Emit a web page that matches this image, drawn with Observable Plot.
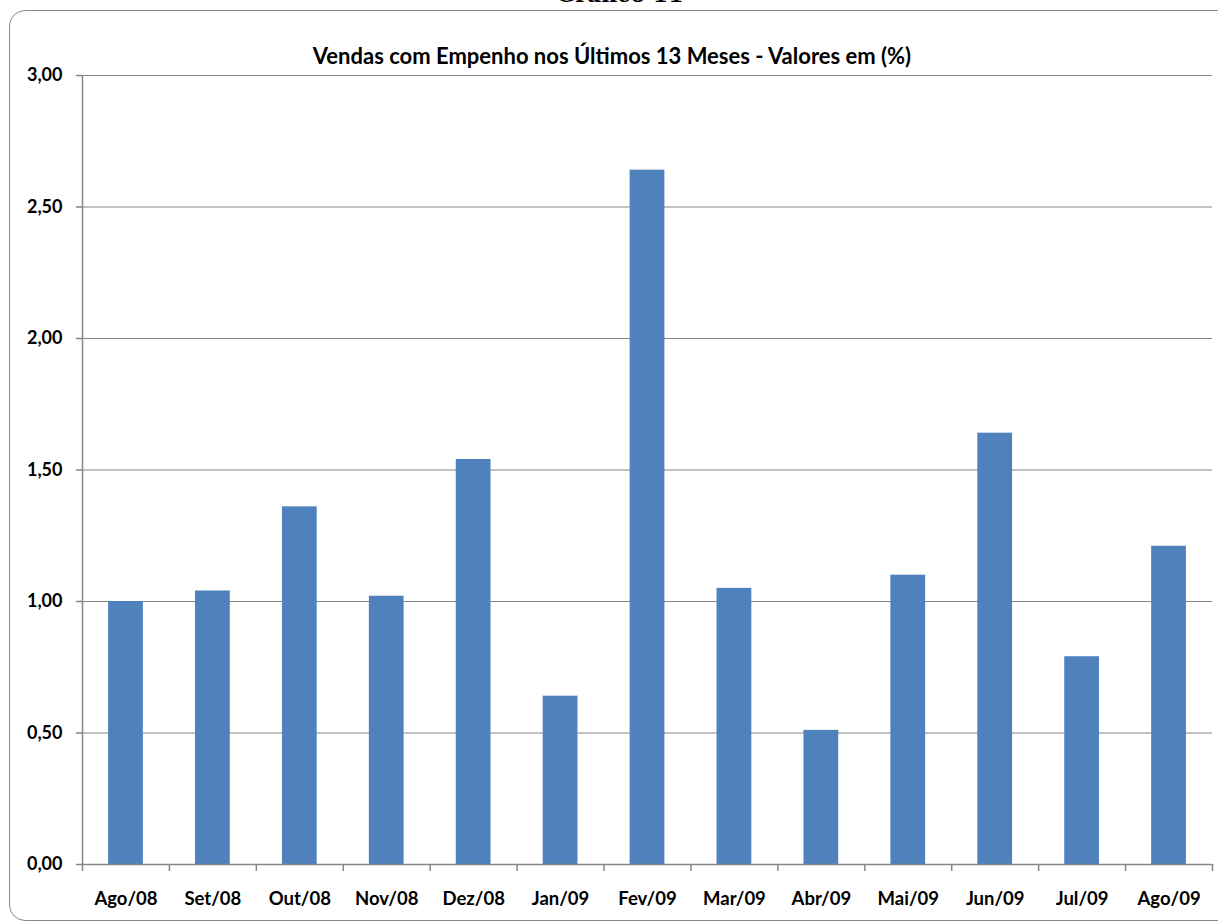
<!DOCTYPE html>
<html>
<head>
<meta charset="utf-8">
<script src="https://cdn.jsdelivr.net/npm/d3@7"></script>
<script src="https://cdn.jsdelivr.net/npm/@observablehq/plot@0.6"></script>
<style>
  html, body { margin: 0; padding: 0; background: #fff; overflow: hidden; }
  #wrap { position: relative; width: 1218px; height: 922px; overflow: hidden; }
  #frame { position: absolute; left: 9px; top: 10px; width: 1230px; height: 911px;
           border: 1.5px solid #8a8a8a; border-radius: 16px; box-sizing: border-box; }
  #sup { position: absolute; left: 0; width: 1240px; top: -17px; text-align: center;
         font-family: "DejaVu Serif", serif; font-weight: bold; font-size: 22px; line-height: 22px; color: #000; }
  #title { position: absolute; left: 0; width: 1224px; top: 43px; text-align: center;
           font-family: Lato, "Open Sans", sans-serif; font-weight: bold; font-size: 22px; line-height: 26px; color: #000; }
  #chart { position: absolute; left: 0; top: 0; }
</style>
</head>
<body>
<div id="wrap">
  <div id="sup">Gráfico 11</div>
  <div id="frame"></div>
  <div id="title">Vendas com Empenho nos Últimos 13 Meses - Valores em (%)</div>
  <div id="chart"></div>
</div>
<script>
const months = ["Ago/08","Set/08","Out/08","Nov/08","Dez/08","Jan/09","Fev/09","Mar/09","Abr/09","Mai/09","Jun/09","Jul/09","Ago/09"];
const values = [1.00, 1.04, 1.36, 1.02, 1.54, 0.64, 2.64, 1.05, 0.51, 1.10, 1.64, 0.79, 1.21];
const yTicks = [0, 0.5, 1.0, 1.5, 2.0, 2.5, 3.0];

const data = months.map((m, i) => ({month: m, value: values[i]}));

const W = 1218, H = 922;
const mL = 82, mR = 6, mT = 75, mB = 58;
const half = (W - mL - mR) / months.length / 2;
const fmt = d => d3.format(".2f")(d).replace(".", ",");
const grey = "#868686";

const chart = Plot.plot({
  width: W,
  height: H,
  marginLeft: mL,
  marginRight: mR,
  marginTop: mT,
  marginBottom: mB,
  style: {background: "transparent", fontFamily: "Lato, 'Open Sans', sans-serif", fontWeight: "bold", fontSize: "18px", color: "#000", overflow: "visible"},
  x: {domain: months, paddingInner: 0.6, paddingOuter: 0.3, round: false, label: null},
  y: {domain: [0, 3], label: null},
  marks: [
    Plot.ruleY(yTicks, {stroke: grey, strokeWidth: 1.2}),
    Plot.barY(data, {x: "month", y: "value", fill: "#4F81BD"}),
    Plot.ruleX(months, {x: d => d, dx: -half, y1: 0, y2: 0, insetBottom: -7, stroke: grey, strokeWidth: 1.5}),
    Plot.ruleX([months[months.length-1]], {x: d => d, dx: half, y1: 0, y2: 0, insetBottom: -7, stroke: grey, strokeWidth: 1.5}),
    Plot.ruleX([months[0]], {x: d => d, dx: -half, y1: 0, y2: 3, stroke: grey, strokeWidth: 1.5}),
    Plot.ruleY([0], {stroke: grey, strokeWidth: 1.5}),
    Plot.axisY({ticks: yTicks, tickFormat: fmt, tickSize: 6, tickPadding: 14, stroke: grey, strokeWidth: 1.5, fontWeight: "bold", fontSize: 18}),
    Plot.axisX({tickSize: 0, tickPadding: 27, fontWeight: "bold", fontSize: 18.5})
  ]
});
document.getElementById("chart").appendChild(chart);
</script>
</body>
</html>
